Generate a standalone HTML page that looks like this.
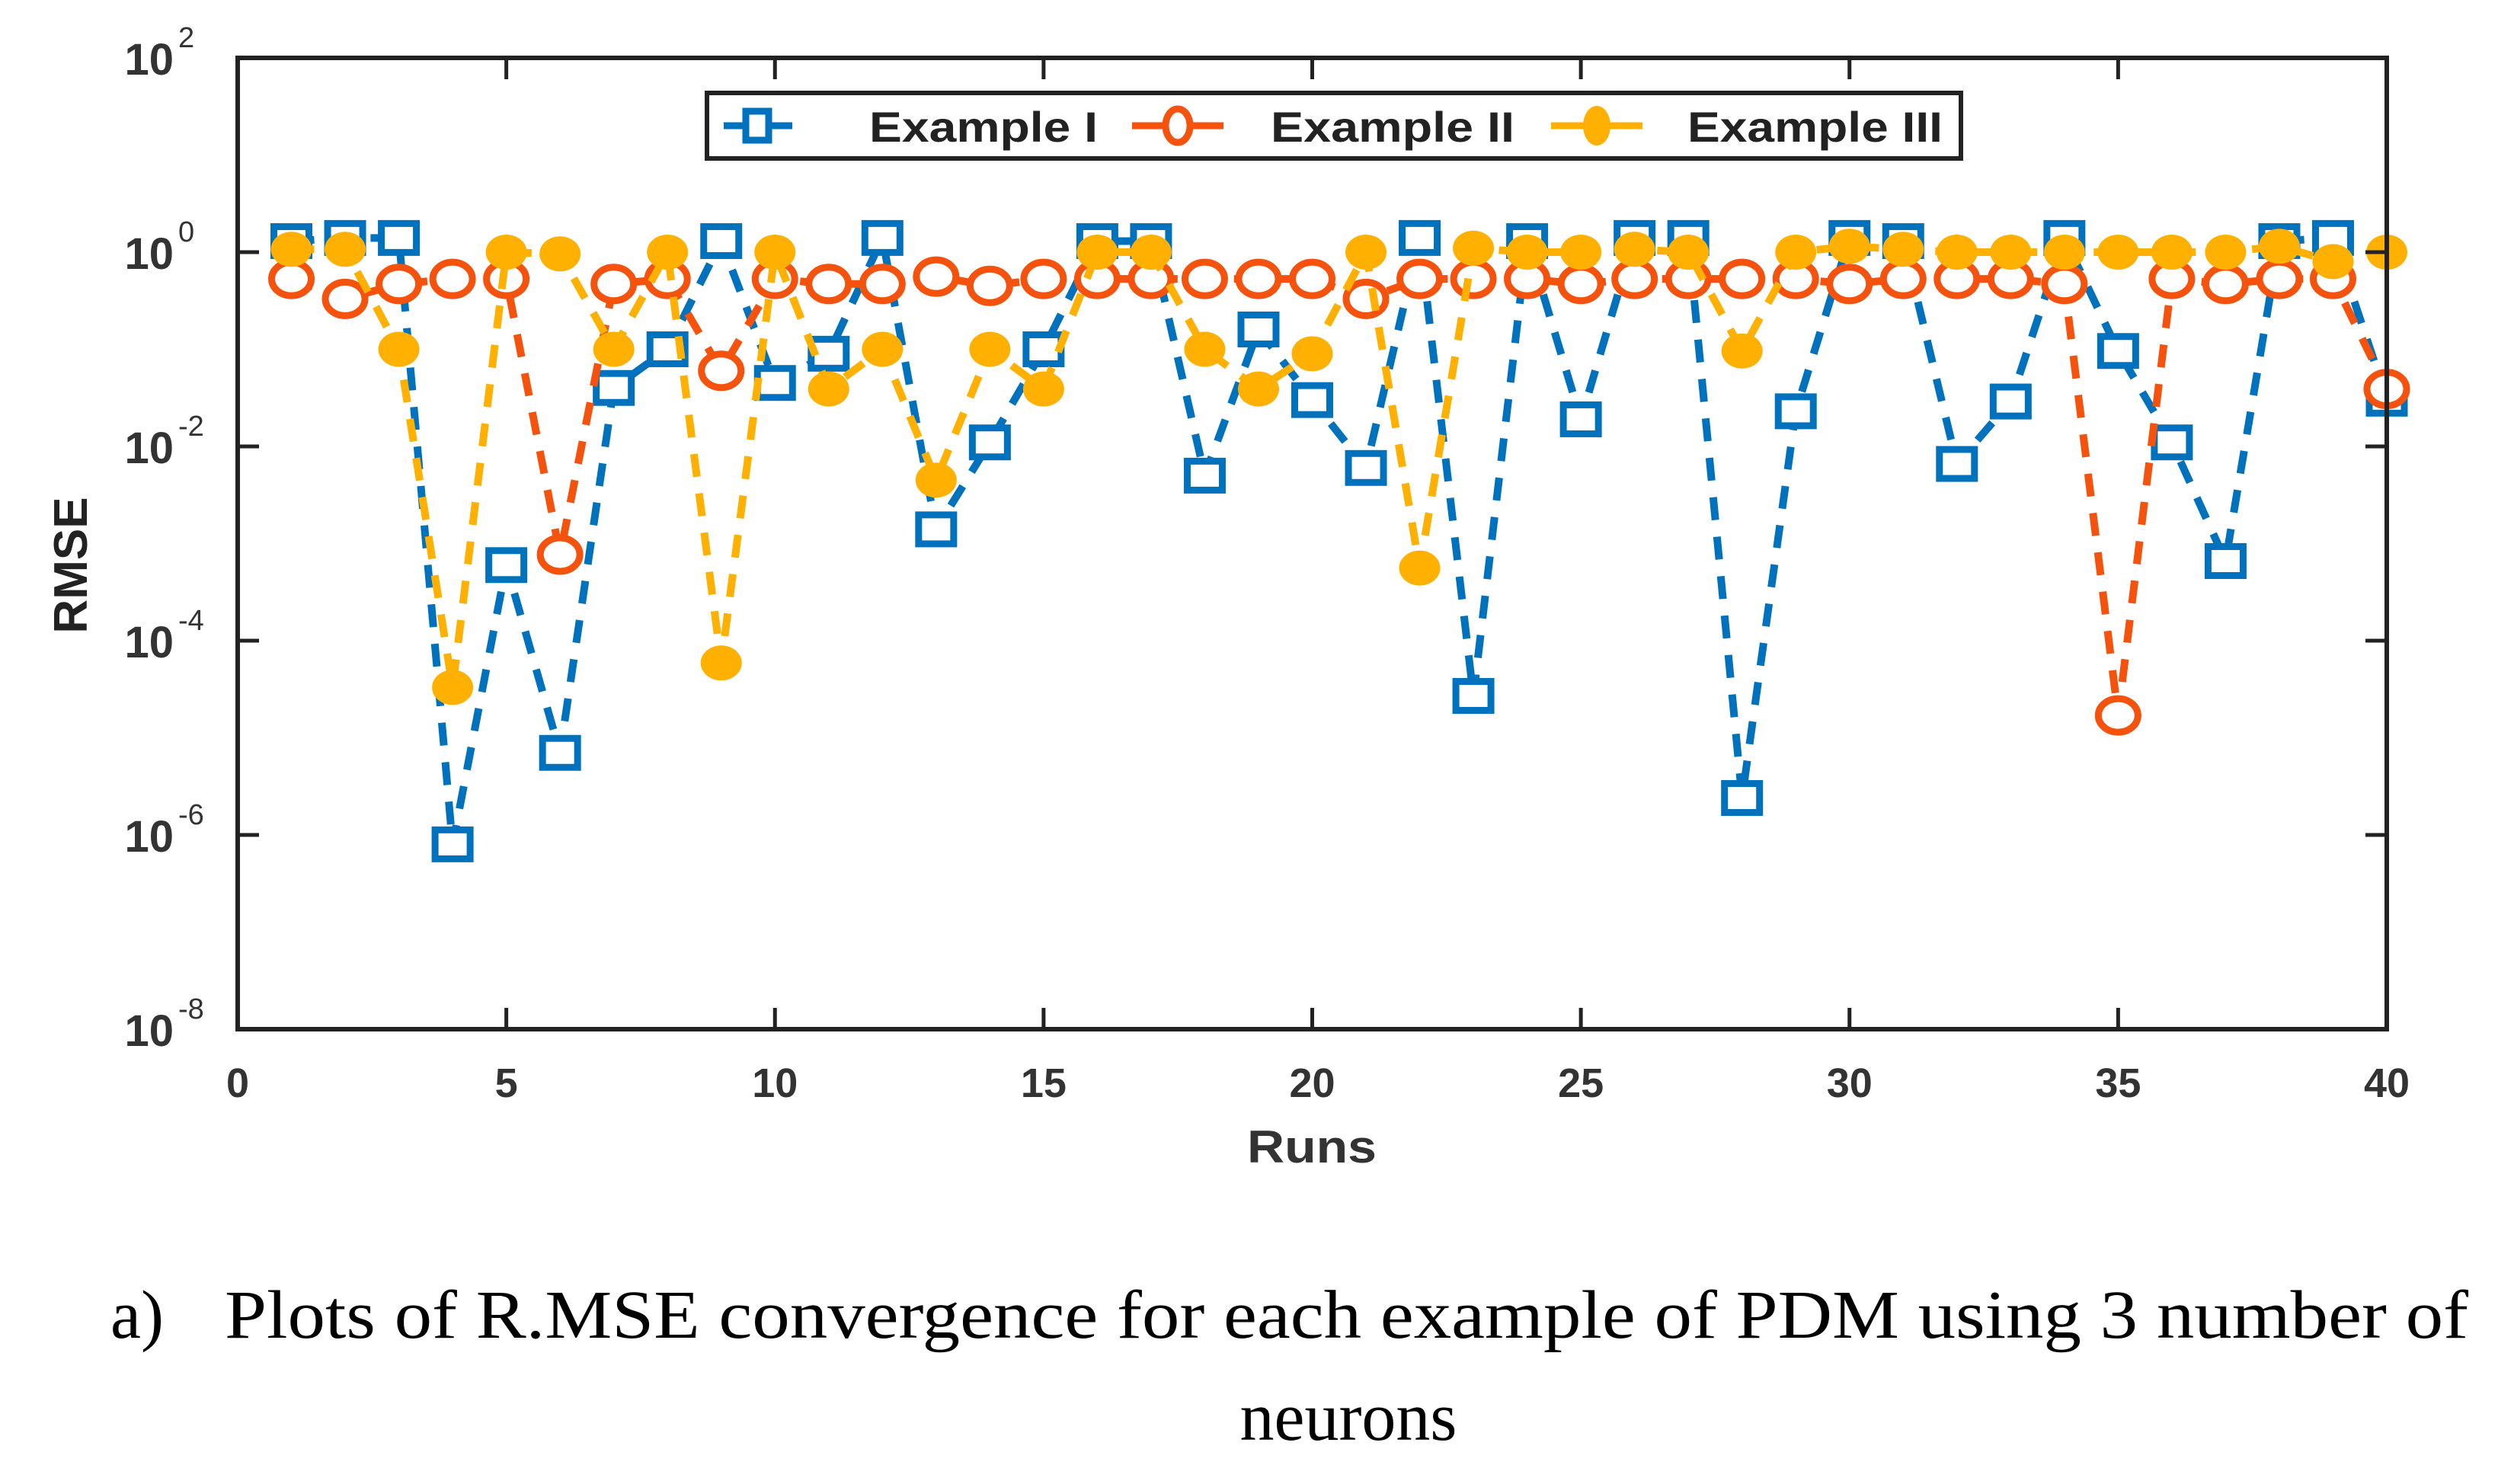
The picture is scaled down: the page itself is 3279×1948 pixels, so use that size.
<!DOCTYPE html>
<html><head><meta charset="utf-8"><style>
html,body{margin:0;padding:0;background:#fff;}
svg{display:block;}
</style></head><body>
<svg id="chart" width="3279" height="1948" viewBox="0 0 3279 1948" xmlns="http://www.w3.org/2000/svg">
<g id="series-layer"></g>
<rect x="312" y="76" width="2821" height="1275" fill="none" stroke="#222" stroke-width="6"/>
<g id="ticks"></g>
<text transform="translate(114,742) rotate(-90)" text-anchor="middle" font-family="Liberation Sans, sans-serif" font-weight="bold" font-size="62" fill="#222">RMSE</text>
<text x="1722" y="1526" text-anchor="middle" font-family="Liberation Sans, sans-serif" font-weight="bold" font-size="60" fill="#333" textLength="170" lengthAdjust="spacingAndGlyphs">Runs</text>
<g>
<rect x="928" y="122" width="1646" height="86" fill="#fff" stroke="#222" stroke-width="6"/>
<g>
<line x1="950" y1="165" x2="1040" y2="165" stroke="#0072BD" stroke-width="9"/>
<rect x="979" y="146" width="30" height="38" fill="#fff" stroke="#0072BD" stroke-width="9"/>
<text x="1141" y="186" font-family="Liberation Sans, sans-serif" font-weight="bold" font-size="56" fill="#222" textLength="300" lengthAdjust="spacingAndGlyphs">Example I</text>
</g>
<g>
<line x1="1486" y1="165" x2="1606" y2="165" stroke="#F4520D" stroke-width="9"/>
<ellipse cx="1546" cy="165" rx="16" ry="22" fill="#fff" stroke="#F4520D" stroke-width="9"/>
<text x="1668" y="186" font-family="Liberation Sans, sans-serif" font-weight="bold" font-size="56" fill="#222" textLength="320" lengthAdjust="spacingAndGlyphs">Example II</text>
</g>
<g>
<line x1="2036" y1="165" x2="2156" y2="165" stroke="#FFB000" stroke-width="9"/>
<ellipse cx="2096" cy="165" rx="18" ry="26" fill="#FFB000"/>
<text x="2215" y="186" font-family="Liberation Sans, sans-serif" font-weight="bold" font-size="56" fill="#222" textLength="335" lengthAdjust="spacingAndGlyphs">Example III</text>
</g>
</g>
<text x="145" y="1756" font-family="Liberation Serif, serif" font-size="90" fill="#000">a)</text>
<text x="295" y="1756" font-family="Liberation Serif, serif" font-size="90" fill="#000" textLength="2945" lengthAdjust="spacingAndGlyphs">Plots of R.MSE convergence for each example of PDM using 3 number of</text>
<text x="1770" y="1890" text-anchor="middle" font-family="Liberation Serif, serif" font-size="90" fill="#000">neurons</text>
</svg>
<script>
const runs = [];
for (let i = 1; i <= 40; i++) runs.push(i);
const example1 = [1.3,1.4,1.4,8e-7,6e-4,7e-6,0.04,0.1,1.3,0.045,0.09,1.4,1.4e-3,0.011,0.1,1.3,1.3,5e-3,0.16,0.03,6e-3,1.4,2.7e-5,1.3,0.019,1.4,1.4,2.4e-6,0.023,1.4,1.3,6.6e-3,0.029,1.4,0.096,0.011,6.6e-4,1.3,1.4,0.031];
const example2 = [0.53,0.33,0.47,0.53,0.53,7.7e-4,0.47,0.53,0.06,0.53,0.47,0.47,0.56,0.45,0.53,0.53,0.53,0.53,0.53,0.53,0.33,0.53,0.53,0.53,0.47,0.53,0.53,0.53,0.53,0.47,0.53,0.53,0.53,0.47,1.7e-5,0.53,0.47,0.53,0.53,0.039];
const example3 = [1.07,1.07,0.1,3.3e-5,1,0.96,0.1,1,5.9e-5,1,0.039,0.1,4.5e-3,0.1,0.039,1,1,0.1,0.039,0.09,1,5.6e-4,1.1,1,1,1.07,1,0.096,1,1.15,1.07,1,1,1,1,1,1,1.15,0.8,1];
const xTicks = [0,5,10,15,20,25,30,35,40];
const yTickExps = [2,0,-2,-4,-6,-8];

const NS = 'http://www.w3.org/2000/svg';
const X0 = 312, X1 = 3133, Y0 = 76, Y1 = 1351;
function xScale(v){ return X0 + (v - 0) / 40 * (X1 - X0); }
function yScale(v){ return Y0 + (2 - Math.log10(v)) / 10 * (Y1 - Y0); }
function mk(tag, attrs, parent){ const e = document.createElementNS(NS, tag); for (const k in attrs) e.setAttribute(k, attrs[k]); parent.appendChild(e); return e; }

const ticks = document.getElementById('ticks');
xTicks.forEach(t => {
  const x = xScale(t);
  const l1 = mk('line', {x1:x, y1:Y1, x2:x, y2:Y1-28, stroke:'#222','stroke-width':5}, ticks);
  
  
  const l2 = mk('line', {x1:x, y1:Y0, x2:x, y2:Y0+28, stroke:'#222','stroke-width':5}, ticks);
  
  
  const tx = mk('text', {x:x, y:1440, 'text-anchor':'middle','font-family':'Liberation Sans, sans-serif','font-weight':'bold','font-size':54, fill:'#333'}, ticks);
  tx.textContent = t;
  
  
});
yTickExps.forEach(e => {
  const y = yScale(Math.pow(10, e));
  const l1 = mk('line', {x1:X0, y1:y, x2:X0+28, y2:y, stroke:'#222','stroke-width':5}, ticks);
  
  
  const l2 = mk('line', {x1:X1, y1:y, x2:X1-28, y2:y, stroke:'#222','stroke-width':5}, ticks);
  
  
  const tx = mk('text', {x:228, y:y+22, 'text-anchor':'end','font-family':'Liberation Sans, sans-serif','font-weight':'bold','font-size':58, fill:'#333'}, ticks);
  tx.textContent = '10';
  
  
  const sp = mk('text', {x:234, y:y-14, 'font-family':'Liberation Sans, sans-serif','font-size':38, fill:'#333'}, ticks);
  sp.textContent = String(e);
  
  
});

const layer = document.getElementById('series-layer');
function drawSeries(vals, color, kind, name){
  const g = mk('g', {}, layer);
  
  
  const pts = runs.map((r,i) => xScale(r) + ',' + yScale(vals[i])).join(' ');
  const pl = mk('polyline', {points:pts, fill:'none', stroke:color, 'stroke-width':10, 'stroke-dasharray':'30 22'}, g);
  
  
  runs.forEach((r,i) => {
    const x = xScale(r), y = yScale(vals[i]);
    let m;
    if (kind === 'square') m = mk('rect', {x:x-23, y:y-19, width:46, height:38, fill:'#fff', stroke:color, 'stroke-width':9}, g);
    else if (kind === 'circle') m = mk('ellipse', {cx:x, cy:y, rx:26, ry:22, fill:'#fff', stroke:color, 'stroke-width':9}, g);
    else m = mk('ellipse', {cx:x, cy:y, rx:27, ry:23, fill:color}, g);
    
    
  });
}
drawSeries(example1, '#0072BD', 'square', 'series-example-1');
drawSeries(example2, '#F4520D', 'circle', 'series-example-2');
drawSeries(example3, '#FFB000', 'filled', 'series-example-3');
</script>
</body></html>
